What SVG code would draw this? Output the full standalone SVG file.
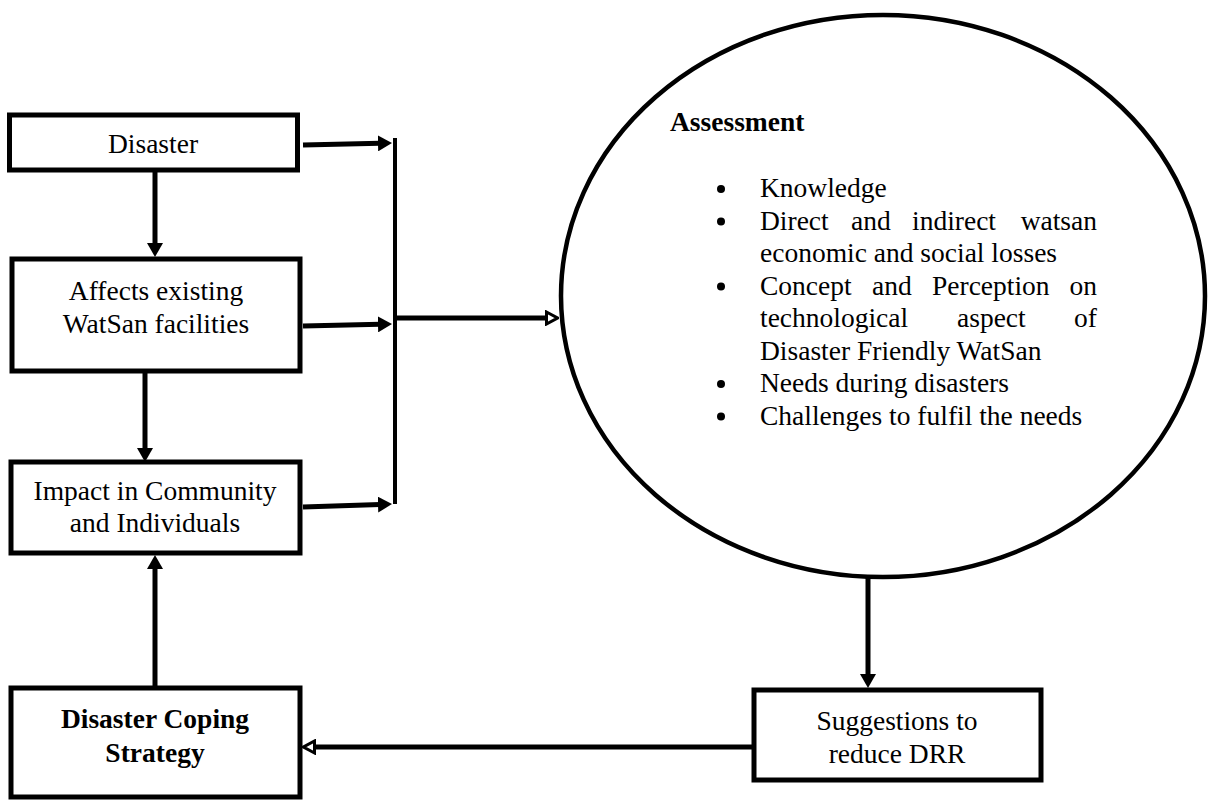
<svg xmlns="http://www.w3.org/2000/svg" width="1210" height="800" viewBox="0 0 1210 800">
  <style>
    .box { fill: #ffffff; stroke: #000000; stroke-width: 5; }
    .ell { fill: #ffffff; stroke: #000000; stroke-width: 4.5; }
    .t { font-family: "Liberation Serif", "Times New Roman", serif; font-size: 27.5px; fill: #000000; }
    .c { text-anchor: middle; }
    .b { font-weight: bold; }
    .e { text-anchor: end; }
    .con { stroke: #000000; stroke-width: 5; fill: none; }
    .bul { fill: #000000; }
  </style>
  <defs>
    <marker id="arr" viewBox="0 0 14 16" markerWidth="14" markerHeight="16" refX="2" refY="8" orient="auto" markerUnits="userSpaceOnUse">
      <path d="M0,0 L14,8 L0,16 z" fill="#000000"/>
    </marker>
    <marker id="open" viewBox="0 0 14 16" markerWidth="14" markerHeight="16" refX="2" refY="8" orient="auto" markerUnits="userSpaceOnUse">
      <path d="M1.5,2 L12.5,8 L1.5,14 z" fill="#ffffff" stroke="#000000" stroke-width="3"/>
    </marker>
  </defs>
  <rect width="1210" height="800" fill="#ffffff"/>

  <g id="connectors">
    <line class="con" x1="303" y1="145" x2="380" y2="143.3" marker-end="url(#arr)"/>
    <line class="con" x1="303" y1="326" x2="380" y2="324.3" marker-end="url(#arr)"/>
    <line class="con" x1="303" y1="507" x2="380" y2="504.5" marker-end="url(#arr)"/>
    <line class="con" x1="395" y1="138" x2="395" y2="504" style="stroke-width:4"/>
    <line class="con" x1="395" y1="318" x2="547" y2="318" marker-end="url(#open)"/>
    <line class="con" x1="155" y1="172" x2="155" y2="245" marker-end="url(#arr)"/>
    <line class="con" x1="145" y1="373" x2="145" y2="450" marker-end="url(#arr)"/>
    <line class="con" x1="155" y1="686" x2="155" y2="567" marker-end="url(#arr)"/>
    <line class="con" x1="868" y1="577" x2="868" y2="676" marker-end="url(#arr)"/>
    <line class="con" x1="754" y1="747" x2="314" y2="747" marker-end="url(#open)"/>
  </g>

  <g id="disaster">
    <rect class="box" x="9.5" y="115" width="288" height="55"/>
    <text class="t c" x="153" y="153">Disaster</text>
  </g>

  <g id="affects">
    <rect class="box" x="12" y="259" width="288" height="112"/>
    <text class="t c" x="156" y="300">Affects existing</text>
    <text class="t c" x="156" y="333">WatSan facilities</text>
  </g>

  <g id="impact">
    <rect class="box" x="11" y="462" width="289" height="91"/>
    <text class="t c" x="155" y="500">Impact in Community</text>
    <text class="t c" x="155" y="532">and Individuals</text>
  </g>

  <g id="coping">
    <rect class="box" x="11" y="688" width="289" height="109"/>
    <text class="t c b" x="155" y="728">Disaster Coping</text>
    <text class="t c b" x="155" y="762">Strategy</text>
  </g>

  <g id="suggestions">
    <rect class="box" x="754" y="690" width="287" height="90"/>
    <text class="t c" x="897" y="730">Suggestions to</text>
    <text class="t c" x="897" y="763">reduce DRR</text>
  </g>

  <g id="assessment">
    <ellipse class="ell" cx="883" cy="296" rx="322" ry="281"/>
    <text class="t b" x="670" y="131">Assessment</text>
    <circle class="bul" cx="721" cy="189" r="4"/>
    <text class="t" x="760" y="197">Knowledge</text>
    <circle class="bul" cx="721" cy="221.5" r="4"/>
    <text class="t" x="760" y="229.5">Direct</text>
    <text class="t" x="851" y="229.5">and</text>
    <text class="t" x="912" y="229.5">indirect</text>
    <text class="t e" x="1097" y="229.5">watsan</text>
    <text class="t" x="760" y="262">economic and social losses</text>
    <circle class="bul" cx="721" cy="286.5" r="4"/>
    <text class="t" x="760" y="294.5">Concept</text>
    <text class="t" x="872" y="294.5">and</text>
    <text class="t" x="932" y="294.5">Perception</text>
    <text class="t e" x="1097" y="294.5">on</text>
    <text class="t" x="760" y="327">technological</text>
    <text class="t" x="957" y="327">aspect</text>
    <text class="t e" x="1097" y="327">of</text>
    <text class="t" x="760" y="359.5">Disaster Friendly WatSan</text>
    <circle class="bul" cx="721" cy="384" r="4"/>
    <text class="t" x="760" y="392">Needs during disasters</text>
    <circle class="bul" cx="721" cy="416.5" r="4"/>
    <text class="t" x="760" y="424.5">Challenges to fulfil the needs</text>
  </g>
</svg>
